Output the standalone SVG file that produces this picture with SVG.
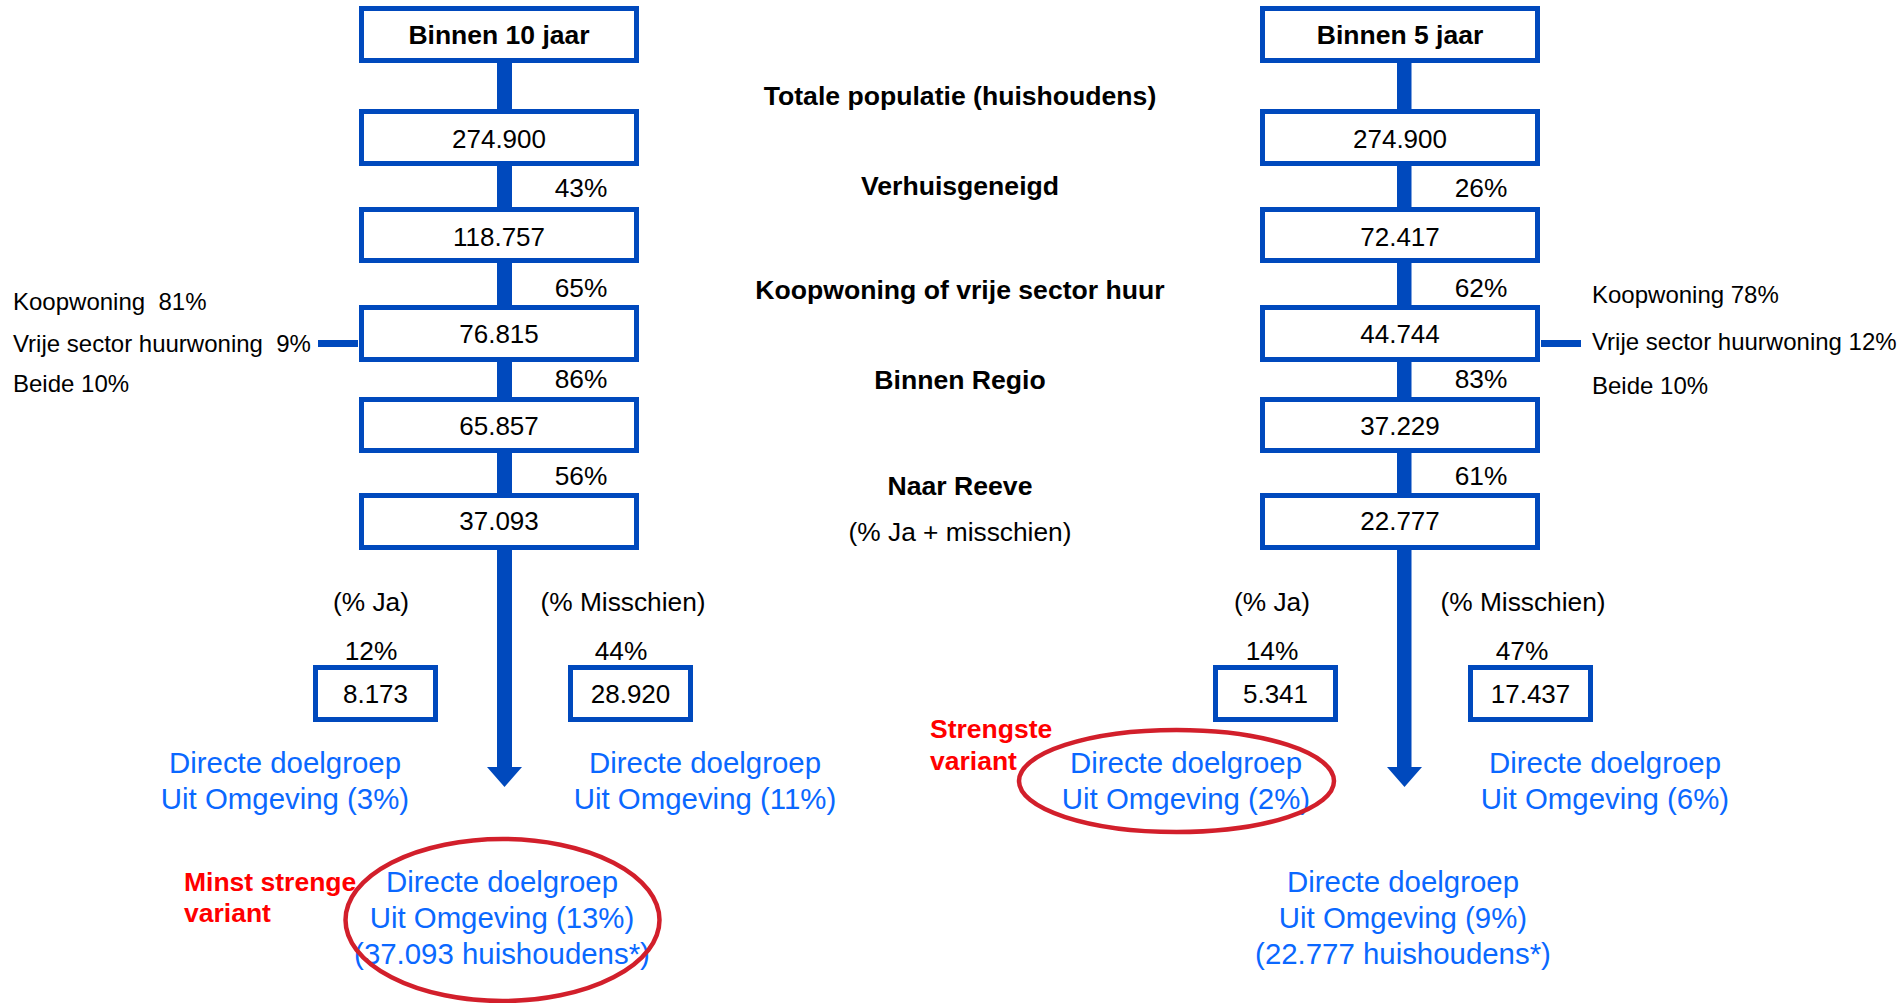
<svg xmlns="http://www.w3.org/2000/svg" width="1903" height="1003" viewBox="0 0 1903 1003">
<style>
  .box{fill:#fff;stroke:#0049BD;stroke-width:5}
  .bar{fill:#0049BD}
  .t{font-family:"Liberation Sans",Arial,sans-serif;fill:#000}
  .num{font-size:26px;text-anchor:middle}
  .ttl{font-size:26.5px;font-weight:bold;text-anchor:middle}
  .mid{font-size:26.6px;font-weight:bold;text-anchor:middle}
  .pct{font-size:26.3px;text-anchor:middle}
  .side{font-size:24px}
  .blue{font-family:"Liberation Sans",Arial,sans-serif;font-size:29.4px;fill:#0A68FF;text-anchor:middle}
  .red{font-family:"Liberation Sans",Arial,sans-serif;font-size:26.5px;font-weight:bold;fill:#FF0000}
  .ell{fill:none;stroke:#D21F2B;stroke-width:4.5}
</style>
<rect width="1903" height="1003" fill="#fff"/>

<g id="connectors">
  <rect class="bar" x="497" y="60" width="15" height="710"/>
  <polygon class="bar" points="487,767 522,767 504.5,787"/>
  <rect class="bar" x="318" y="340" width="40" height="7"/>
  <rect class="bar" x="1397" y="60" width="14.5" height="710"/>
  <polygon class="bar" points="1387,767 1422,767 1404.5,787"/>
  <rect class="bar" x="1541" y="340" width="40" height="7"/>
</g>

<g id="left-title"><rect class="box" x="361.5" y="8.5" width="275" height="52"/><text class="t ttl" x="499" y="44">Binnen 10 jaar</text></g>
<g id="left-n1"><rect class="box" x="361.5" y="111.5" width="275" height="52"/><text class="t num" x="499" y="148">274.900</text></g>
<g id="left-n2"><rect class="box" x="361.5" y="209.5" width="275" height="51"/><text class="t num" x="499" y="246">118.757</text></g>
<g id="left-n3"><rect class="box" x="361.5" y="307.5" width="275" height="52"/><text class="t num" x="499" y="343">76.815</text></g>
<g id="left-n4"><rect class="box" x="361.5" y="399.5" width="275" height="51"/><text class="t num" x="499" y="435">65.857</text></g>
<g id="left-n5"><rect class="box" x="361.5" y="495.5" width="275" height="52"/><text class="t num" x="499" y="530">37.093</text></g>

<g id="left-pcts">
  <text class="t pct" x="581" y="197">43%</text>
  <text class="t pct" x="581" y="297">65%</text>
  <text class="t pct" x="581" y="388">86%</text>
  <text class="t pct" x="581" y="485">56%</text>
</g>

<g id="left-side">
  <text class="t side" x="13" y="310" xml:space="preserve">Koopwoning  81%</text>
  <text class="t side" x="13" y="352" xml:space="preserve">Vrije sector huurwoning  9%</text>
  <text class="t side" x="13" y="392">Beide 10%</text>
</g>

<g id="right-title"><rect class="box" x="1262.5" y="8.5" width="275" height="52"/><text class="t ttl" x="1400" y="44">Binnen 5 jaar</text></g>
<g id="right-n1"><rect class="box" x="1262.5" y="111.5" width="275" height="52"/><text class="t num" x="1400" y="148">274.900</text></g>
<g id="right-n2"><rect class="box" x="1262.5" y="209.5" width="275" height="51"/><text class="t num" x="1400" y="246">72.417</text></g>
<g id="right-n3"><rect class="box" x="1262.5" y="307.5" width="275" height="52"/><text class="t num" x="1400" y="343">44.744</text></g>
<g id="right-n4"><rect class="box" x="1262.5" y="399.5" width="275" height="51"/><text class="t num" x="1400" y="435">37.229</text></g>
<g id="right-n5"><rect class="box" x="1262.5" y="495.5" width="275" height="52"/><text class="t num" x="1400" y="530">22.777</text></g>

<g id="right-pcts">
  <text class="t pct" x="1481" y="197">26%</text>
  <text class="t pct" x="1481" y="297">62%</text>
  <text class="t pct" x="1481" y="388">83%</text>
  <text class="t pct" x="1481" y="485">61%</text>
</g>

<g id="right-side">
  <text class="t side" x="1592" y="303">Koopwoning 78%</text>
  <text class="t side" x="1592" y="350">Vrije sector huurwoning 12%</text>
  <text class="t side" x="1592" y="394">Beide 10%</text>
</g>

<g id="middle-labels">
  <text class="t mid" x="960" y="105">Totale populatie (huishoudens)</text>
  <text class="t mid" x="960" y="195">Verhuisgeneigd</text>
  <text class="t mid" x="960" y="299">Koopwoning of vrije sector huur</text>
  <text class="t mid" x="960" y="389">Binnen Regio</text>
  <text class="t mid" x="960" y="495">Naar Reeve</text>
  <text class="t pct" x="960" y="541">(% Ja + misschien)</text>
</g>

<g id="left-split">
  <text class="t pct" x="371" y="611">(% Ja)</text>
  <text class="t pct" x="623" y="611">(% Misschien)</text>
  <text class="t pct" x="371" y="660">12%</text>
  <text class="t pct" x="621" y="660">44%</text>
</g>
<g id="left-ja"><rect class="box" x="315.5" y="667.5" width="120" height="52"/><text class="t num" x="375.5" y="703">8.173</text></g>
<g id="left-misschien"><rect class="box" x="570.5" y="667.5" width="120" height="52"/><text class="t num" x="630.5" y="703">28.920</text></g>

<g id="right-split">
  <text class="t pct" x="1272" y="611">(% Ja)</text>
  <text class="t pct" x="1523" y="611">(% Misschien)</text>
  <text class="t pct" x="1272" y="660">14%</text>
  <text class="t pct" x="1522" y="660">47%</text>
</g>
<g id="right-ja"><rect class="box" x="1215.5" y="667.5" width="120" height="52"/><text class="t num" x="1275.5" y="703">5.341</text></g>
<g id="right-misschien"><rect class="box" x="1470.5" y="667.5" width="120" height="52"/><text class="t num" x="1530.5" y="703">17.437</text></g>

<g id="left-ja-result"><text class="blue" x="285" y="773">Directe doelgroep</text><text class="blue" x="285" y="809">Uit Omgeving (3%)</text></g>
<g id="left-misschien-result"><text class="blue" x="705" y="773">Directe doelgroep</text><text class="blue" x="705" y="809">Uit Omgeving (11%)</text></g>
<g id="right-ja-result"><text class="blue" x="1186" y="773">Directe doelgroep</text><text class="blue" x="1186" y="809">Uit Omgeving (2%)</text></g>
<g id="right-misschien-result"><text class="blue" x="1605" y="773">Directe doelgroep</text><text class="blue" x="1605" y="809">Uit Omgeving (6%)</text></g>

<g id="left-total">
  <text class="blue" x="502" y="892">Directe doelgroep</text>
  <text class="blue" x="502" y="928">Uit Omgeving (13%)</text>
  <text class="blue" x="502" y="964">(37.093 huishoudens*)</text>
</g>
<g id="right-total">
  <text class="blue" x="1403" y="892">Directe doelgroep</text>
  <text class="blue" x="1403" y="928">Uit Omgeving (9%)</text>
  <text class="blue" x="1403" y="964">(22.777 huishoudens*)</text>
</g>

<g id="highlight-minst">
  <ellipse class="ell" cx="502.5" cy="920" rx="157" ry="81"/>
  <text class="red" x="184" y="891">Minst strenge</text>
  <text class="red" x="184" y="922">variant</text>
</g>
<g id="highlight-strengste">
  <ellipse class="ell" cx="1176.5" cy="781" rx="157.5" ry="51"/>
  <text class="red" x="930" y="738">Strengste</text>
  <text class="red" x="930" y="770">variant</text>
</g>
</svg>
